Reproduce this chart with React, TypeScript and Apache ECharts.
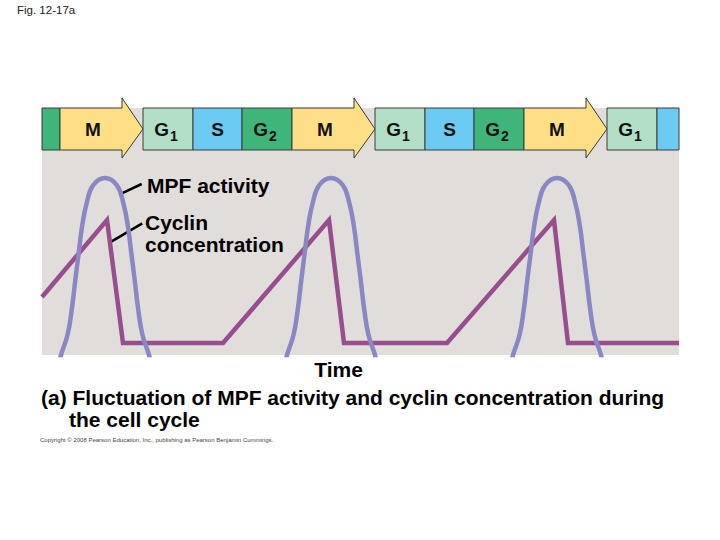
import React, { useEffect, useRef } from "react";
import * as echarts from "echarts";

// ---- Data ----
const phaseNames = ["G2", "M", "G1", "S", "G2", "M", "G1", "S", "G2", "M", "G1", "S"];
const phaseStart = [42, 60, 143, 193, 242, 292, 375, 425, 474, 524, 607, 657];
const phaseEnd = [60, 143, 193, 242, 292, 375, 425, 474, 524, 607, 657, 679];
const phaseLabelShown = [false, true, true, true, true, true, true, true, true, true, true, false];

const cyclinTime = [42, 107, 123, 223, 329, 344, 447, 554, 568, 679];
const cyclinLevel = [58, 135, 12, 12, 135, 12, 12, 135, 12, 12];

const mpfTime = [
  30,
  53, 61, 67.5, 71.7, 75.3, 78.7, 82, 86.7, 93.3, 105, 116.7, 123.3, 128, 131.3, 134.7, 138.3, 142.5, 149, 157,
  218,
  279, 287, 293.5, 297.7, 301.3, 304.7, 308, 312.7, 319.3, 331, 342.7, 349.3, 354, 357.3, 360.7, 364.3, 368.5, 375, 383,
  444,
  505, 513, 519.5, 523.7, 527.3, 530.7, 534, 538.7, 545.3, 557, 568.7, 575.3, 580, 583.3, 586.7, 590.3, 594.5, 601, 609,
  690,
];
const mpfLevel = [
  -70,
  -30, 0, 20, 45, 75, 102, 128, 152, 170, 177, 170, 152, 128, 102, 75, 45, 20, 0, -30,
  -70,
  -30, 0, 20, 45, 75, 102, 128, 152, 170, 177, 170, 152, 128, 102, 75, 45, 20, 0, -30,
  -70,
  -30, 0, 20, 45, 75, 102, 128, 152, 170, 177, 170, 152, 128, 102, 75, 45, 20, 0, -30,
  -70,
];

const titleLine1 = "(a) Fluctuation of MPF activity and cyclin concentration during";
const titleLine2 = "the cell cycle";
const figLabel = "Fig. 12-17a";
const copyright = "Copyright © 2008 Pearson Education, Inc., publishing as Pearson Benjamin Cummings.";

// ---- Styling ----
const phaseColors: Record<string, string> = {
  G1: "#b3dfc6",
  S: "#6ccbf2",
  G2: "#40b57a",
  M: "#fde086",
};
const FONT = '"Liberation Sans", Arial, Helvetica, sans-serif';
const BAND_TOP = 247;
const BAND_BOTTOM = 205;

export default function App() {
  const ref = useRef<HTMLDivElement>(null);

  useEffect(() => {
    if (!ref.current) return;
    const chart = echarts.init(ref.current, null, { renderer: "svg" });

    const stroke = "#3a3a3a";
    const renderPhase = (params: any, api: any) => {
      const i = params.dataIndex;
      const s = api.value(0);
      const e = api.value(1);
      const p0 = api.coord([s, BAND_TOP]);
      const p1 = api.coord([e, BAND_BOTTOM]);
      const x0 = p0[0], y0 = p0[1], x1 = p1[0], y1 = p1[1];
      const name = phaseNames[i];
      const fill = phaseColors[name];
      const cy = (y0 + y1) / 2;
      const children: any[] = [];
      let cx = (x0 + x1) / 2;
      if (name === "M") {
        const bx = x1 - 21;
        cx = (x0 + bx) / 2 + 2;
        children.push({
          type: "polygon",
          shape: {
            points: [
              [x0, y0], [bx, y0], [bx, y0 - 10], [x1, cy], [bx, y1 + 8], [bx, y1], [x0, y1],
            ],
          },
          style: { fill, stroke, lineWidth: 1 },
        });
      } else {
        children.push({
          type: "rect",
          shape: { x: x0, y: y0, width: x1 - x0, height: y1 - y0 },
          style: { fill, stroke, lineWidth: 1 },
        });
      }
      if (phaseLabelShown[i]) {
        const main = name.charAt(0);
        const sub = name.slice(1);
        if (sub) {
          children.push({
            type: "text",
            x: cx + 1,
            y: cy,
            style: {
              text: main, fill: "#111", font: `bold 19px ${FONT}`,
              textAlign: "right", textVerticalAlign: "middle",
            },
          });
          children.push({
            type: "text",
            x: cx + 2,
            y: cy + 7,
            style: {
              text: sub, fill: "#111", font: `bold 14px ${FONT}`,
              textAlign: "left", textVerticalAlign: "middle",
            },
          });
        } else {
          children.push({
            type: "text",
            x: cx,
            y: cy,
            style: {
              text: main, fill: "#111", font: `bold 19px ${FONT}`,
              textAlign: "center", textVerticalAlign: "middle",
            },
          });
        }
      }
      return { type: "group", children };
    };

    const option: any = {
      animation: false,
      backgroundColor: "#ffffff",
      title: [
        {
          text: figLabel, left: 17, top: 4, padding: 0,
          textStyle: { fontSize: 11.5, fontWeight: "normal", fontFamily: FONT, color: "#222" },
        },
        {
          text: titleLine1, left: 41, top: 387, padding: 0,
          textStyle: { fontSize: 21, fontWeight: "bold", fontFamily: FONT, color: "#000", lineHeight: 21 },
        },
        {
          text: titleLine2, left: 69, top: 409, padding: 0,
          textStyle: { fontSize: 21, fontWeight: "bold", fontFamily: FONT, color: "#000", lineHeight: 21 },
        },
        {
          text: copyright, left: 40, top: 437, padding: 0,
          textStyle: { fontSize: 6, fontWeight: "normal", fontFamily: FONT, color: "#444" },
        },
      ],
      grid: {
        left: 42, right: 41, top: 108, bottom: 185,
        show: true, backgroundColor: "#e0dddb", borderWidth: 0,
      },
      xAxis: {
        type: "value", min: 42, max: 679,
        name: "Time", nameLocation: "middle", nameGap: 4,
        nameTextStyle: {
          fontSize: 21, fontWeight: "bold", fontFamily: FONT, color: "#000",
          verticalAlign: "top", lineHeight: 21, padding: [0, 44, 0, 0],
        },
        axisLine: { show: false }, axisTick: { show: false },
        axisLabel: { show: false }, splitLine: { show: false },
      },
      yAxis: {
        type: "value", min: 0, max: 247,
        axisLine: { show: false }, axisTick: { show: false },
        axisLabel: { show: false }, splitLine: { show: false },
      },
      series: [
        {
          name: "Cyclin concentration",
          type: "line",
          data: cyclinTime.map((t, i) => [t, cyclinLevel[i]]),
          showSymbol: false, symbol: "none",
          lineStyle: { color: "#974d8e", width: 4.5, join: "miter" },
          z: 2,
        },
        {
          name: "MPF activity",
          type: "line",
          data: mpfTime.map((t, i) => [t, mpfLevel[i]]),
          smooth: 0.45,
          showSymbol: false, symbol: "none",
          clip: true,
          lineStyle: { color: "#8b87c5", width: 4.5 },
          z: 3,
        },
        {
          name: "Phases",
          type: "custom",
          renderItem: renderPhase,
          encode: { x: [0, 1] },
          data: phaseStart.map((s, i) => [s, phaseEnd[i], i]),
          z: 5,
        },
      ],
      graphic: [
        {
          type: "line",
          shape: { x1: 121.7, y1: 193.3, x2: 141.7, y2: 184 },
          style: { stroke: "#000", lineWidth: 2.5 },
        },
        {
          type: "line",
          shape: { x1: 110, y1: 242.3, x2: 142.3, y2: 223.3 },
          style: { stroke: "#000", lineWidth: 2.5 },
        },
        {
          type: "text", x: 147, y: 185.5,
          style: {
            text: "MPF activity", fill: "#000", font: `bold 21px ${FONT}`,
            textAlign: "left", textVerticalAlign: "middle",
          },
        },
        {
          type: "text", x: 145, y: 222.5,
          style: {
            text: "Cyclin", fill: "#000", font: `bold 21px ${FONT}`,
            textAlign: "left", textVerticalAlign: "middle",
          },
        },
        {
          type: "text", x: 145, y: 244,
          style: {
            text: "concentration", fill: "#000", font: `bold 21px ${FONT}`,
            textAlign: "left", textVerticalAlign: "middle",
          },
        },
      ],
    };

    chart.setOption(option);
    return () => chart.dispose();
  }, []);

  return (
    <div
      ref={ref}
      style={{ position: "absolute", left: 0, top: 0, width: 720, height: 540 }}
    />
  );
}
